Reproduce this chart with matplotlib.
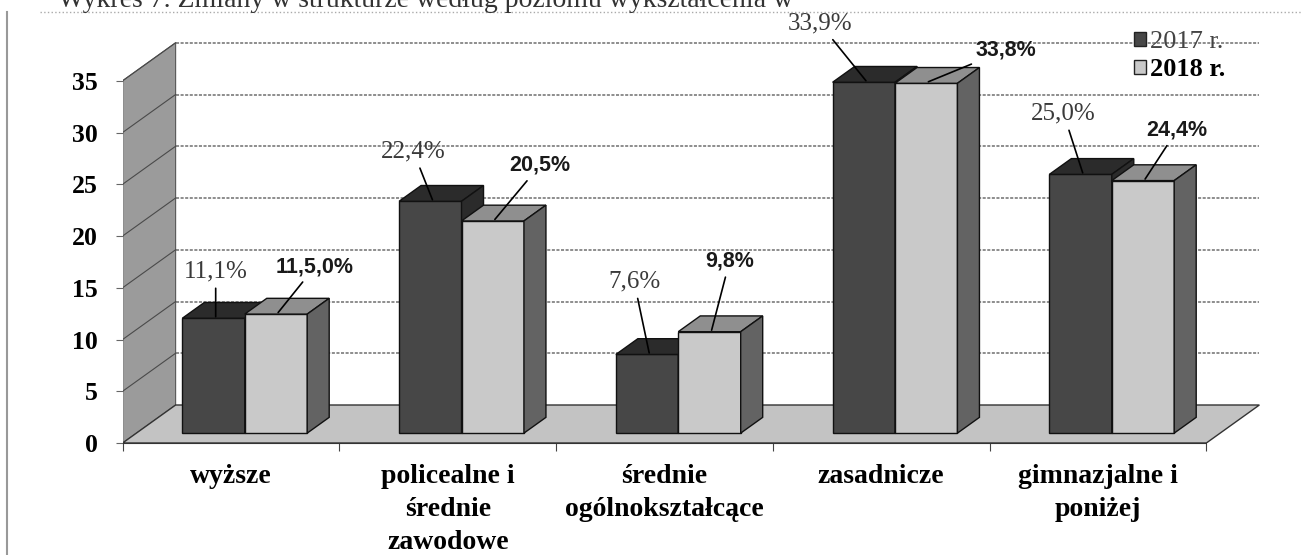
import matplotlib
matplotlib.use("Agg")
import matplotlib.pyplot as plt
from matplotlib.patches import Polygon, Patch
from matplotlib.lines import Line2D

plt.rcParams['font.family'] = ['Liberation Serif', 'DejaVu Serif']

# dane
categories = ["wyższe", "policealne i\nśrednie\nzawodowe", "średnie\nogólnokształcące",
              "zasadnicze", "gimnazjalne i\nponiżej"]
values_2017 = [11.1, 22.4, 7.6, 33.9, 25.0]
values_2018 = [11.5, 20.5, 9.8, 33.8, 24.4]
labels_2017 = ["11,1%", "22,4%", "7,6%", "33,9%", "25,0%"]
labels_2018 = ["11,5,0%", "20,5%", "9,8%", "33,8%", "24,4%"]
yticks = [0, 5, 10, 15, 20, 25, 30, 35]

# wygląd "3D"
W, H = 1302, 555
px_x = 216.75          # piksele na kategorię
px_y = 10.35           # piksele na jednostkę
DX = 53 / px_x         # przesunięcie głębi (cała podłoga)
DY = 38 / px_y
d0, d1 = 0.26, 0.675   # głębokość słupków
bw = 0.288             # szerokość słupka

dark, dark_top = "#474747", "#2b2b2b"
light, light_top, light_side = "#c9c9c9", "#8f8f8f", "#636363"
grid_c = "#6f6f6f"

# przesunięcia etykiet (px: prawo, góra)
off_2017 = [(0, 45), (-19, 48), (-15, 71), (-46, 57), (-19, 59)]
off_2018 = [(37, 46), (45, 54), (18, 69), (78, 32), (32, 49)]


def proj(x, v, d):
    return (x + d * DX, v + d * DY)


fig = plt.figure(figsize=(W / 100, H / 100), dpi=100)
left, right, top, bottom = 122.6, 1262, 30, 443
ax = fig.add_axes([left / W, (H - bottom) / H, (right - left) / W, (bottom - top) / H])
x0 = (left - 231) / px_x
ax.set_xlim(x0, x0 + (right - left) / px_x)
ax.set_ylim(0, (bottom - top) / px_y)

n = len(categories)
xl, xr = -0.5, n - 0.5

# ściana boczna
side = Polygon([proj(xl, 0, 0), proj(xl, 0, 1), proj(xl, 35, 1), proj(xl, 35, 0)],
               closed=True, fc="#9b9b9b", ec="#555555", lw=0.8, zorder=1)
ax.add_patch(side)
# podłoga
floor = Polygon([proj(xl, 0, 0), proj(xr, 0, 0), proj(xr, 0, 1), proj(xl, 0, 1)],
                closed=True, fc="#c3c3c3", ec="#333333", lw=1.0, zorder=1)
ax.add_patch(floor)

# linie siatki
for v in yticks[1:]:
    a, b = proj(xl, v, 1), proj(xr, v, 1)
    ax.plot([a[0], b[0]], [a[1], b[1]], color=grid_c, lw=1.1, ls=(0, (2, 1)), zorder=2)
    c = proj(xl, v, 0)
    ax.plot([c[0], a[0]], [c[1], a[1]], color="#4a4a4a", lw=0.8, zorder=2)


def box(xa, xb, v, front, topc, sidec):
    faces = [
        [proj(xa, 0, d0), proj(xb, 0, d0), proj(xb, v, d0), proj(xa, v, d0)],
        [proj(xa, v, d0), proj(xb, v, d0), proj(xb, v, d1), proj(xa, v, d1)],
        [proj(xb, 0, d0), proj(xb, 0, d1), proj(xb, v, d1), proj(xb, v, d0)],
    ]
    for f, c in zip(faces, [front, topc, sidec]):
        ax.add_patch(Polygon(f, closed=True, fc=c, ec="#111111", lw=1.0, zorder=3))


for i in range(n):
    box(i - bw, i, values_2017[i], dark, dark_top, dark_top)
    box(i, i + bw, values_2018[i], light, light_top, light_side)

    xa, ya = proj(i - bw / 2, values_2017[i], d0 + 0.04)
    ox, oy = off_2017[i]
    ax.annotate(labels_2017[i], xy=(xa, ya), xytext=(ox * 0.72, oy * 0.72),
                textcoords="offset points", ha="center", va="center",
                fontsize=18, color="#3a3a3a", zorder=5,
                arrowprops=dict(arrowstyle="-", color="black", lw=1.2, shrinkA=2, shrinkB=0))
    xa, ya = proj(i + bw / 2, values_2018[i], d0 + 0.04)
    ox, oy = off_2018[i]
    ax.annotate(labels_2018[i], xy=(xa, ya), xytext=(ox * 0.72, oy * 0.72),
                textcoords="offset points", ha="center", va="center",
                fontsize=15.5, fontweight="bold", family=["Liberation Sans", "DejaVu Sans"],
                color="#1a1a1a", zorder=5,
                arrowprops=dict(arrowstyle="-", color="black", lw=1.2, shrinkA=2, shrinkB=0))

# osie
for s in ["top", "right", "left"]:
    ax.spines[s].set_visible(False)
ax.spines["bottom"].set_bounds(xl, xr)
ax.spines["bottom"].set_color("#333333")
ax.set_yticks(yticks)
ax.set_yticklabels([str(t) for t in yticks], fontsize=18.5, fontweight="bold")
ax.tick_params(axis="y", length=5, color="#666666", pad=13)
ax.set_xticks([i - 0.5 for i in range(n + 1)])
ax.set_xticklabels([])
ax.tick_params(axis="x", which="major", length=6, color="#444444")
ax.set_xticks(range(n), minor=True)
ax.set_xticklabels(categories, minor=True, fontsize=20, fontweight="bold", linespacing=1.42)
ax.tick_params(axis="x", which="minor", length=0, pad=15)
ax.patch.set_alpha(0)

# legenda
leg = ax.legend(handles=[Patch(fc=dark, ec="#222222"), Patch(fc=light, ec="#222222")],
                labels=["2017 r.", "2018 r."], loc="upper left",
                bbox_to_anchor=(1134 / W, 1 - 31 / H), bbox_transform=fig.transFigure,
                frameon=False, fontsize=19, handlelength=0.45, handleheight=0.45,
                handletextpad=0.15, labelspacing=0.2, borderpad=0, borderaxespad=0)
leg.get_texts()[0].set_color("#444444")
leg.get_texts()[1].set_fontweight("bold")

# ramka skanu i ucięty podpis
fig.text(58 / W, 1 - 7 / H, "Wykres 7. Zmiany w strukturze według poziomu wykształcenia w",
         fontsize=20, va="baseline", color="#333333")
fig.add_artist(Line2D([40 / W, 1], [1 - 12 / H, 1 - 12 / H], color="#aaaaaa", lw=1, ls=":"))
fig.add_artist(Line2D([7 / W, 7 / W], [0, 1 - 12 / H], color="#999999", lw=1.5))

fig.savefig("out.png", dpi=100)
